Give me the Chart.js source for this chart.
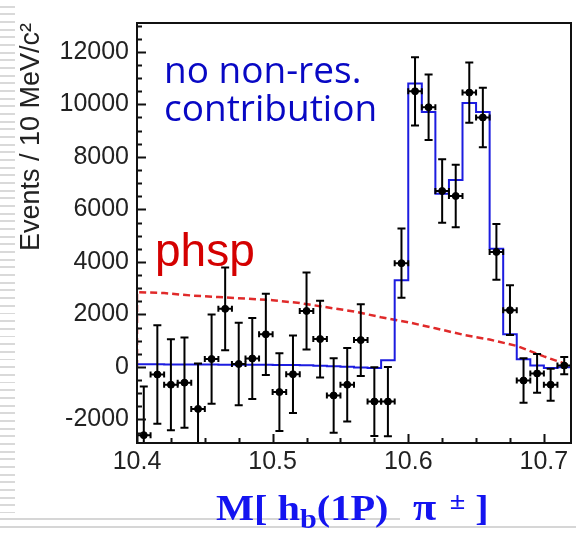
<!DOCTYPE html>
<html>
<head>
<meta charset="utf-8">
<title>M[hb(1P) pi] fit, no non-resonant contribution</title>
<script src="https://cdn.jsdelivr.net/npm/chart.js"></script>
<style>
    html, body { margin: 0; padding: 0; background: #fff; }
    #wrap { position: relative; width: 576px; height: 538px; overflow: hidden; }
    #stripes {
        position: absolute; left: 0; top: 0; width: 15px; height: 513px;
        background: repeating-linear-gradient(to bottom, #fff 0px, #fff 5.7px, #d9d9d9 5.7px, #d9d9d9 7.67px);
    }
    .hline { position: absolute; left: 0; height: 2px; background: #d6d6d6; }
    #myChart { position: absolute; left: 0; top: 0; }
    .note { position: absolute; white-space: nowrap; }
    #nores { left: 164px; top: 50px; font: 37px/38px "Open Sans", sans-serif; color: #0808c4; }
    #phsp { left: 155px; top: 227px; font: 46px/46px "Liberation Sans", Arial, sans-serif; color: #d40000; }
    #xtitle {
        left: 216px; top: 487px; font: bold 36px/40px "Liberation Serif", "Times New Roman", serif;
        color: #1414f0; transform: scaleX(1.12); transform-origin: left top;
    }
    #xtitle sub { font-size: 0.75em; vertical-align: -0.3em; line-height: 0; }
    #xtitle sup { font-size: 0.7em; vertical-align: 0.45em; line-height: 0; }
    #xtitle .pi { margin-left: 4px; font-size: 1.05em; }
    #xtitle .pm { margin-left: 3px; }
</style>
</head>
<body>
<div id="wrap">
    <div id="stripes"></div>
    <div class="hline" style="top:518px; width:400px;"></div>
    <div class="hline" style="top:526px; width:576px;"></div>
    <canvas id="myChart" width="576" height="538"></canvas>
    <div class="note" id="nores">no non-res.<br>contribution</div>
    <div class="note" id="phsp">phsp</div>
    <div class="note" id="xtitle">M[ h<sub>b</sub>(1P)&nbsp; <span class="pi">π</span> <sup class="pm">±</sup> ]</div>
</div>

<script>
    // data points: bin centres (GeV), events per 10 MeV and their errors
    const massBins = [10.405, 10.415, 10.425, 10.435, 10.445, 10.455, 10.465, 10.475,
        10.485, 10.495, 10.505, 10.515, 10.525, 10.535, 10.545, 10.555,
        10.565, 10.575, 10.585, 10.595, 10.605, 10.615, 10.625, 10.635,
        10.645, 10.655, 10.665, 10.675, 10.685, 10.695, 10.705, 10.715];
    const events = [-2600, -290, -680, -600, -1600, 300, 2210, 110,
        320, 1240, -960, -280, 2130, 1060, -1090, -680,
        1020, -1320, -1320, 3950, 10500, 9890, 6700, 6510,
        10450, 9500, 4380, 2160, -520, -250, -680, 50];
    const eventErr = [1850, 1880, 1730, 1720, 1730, 1700, 1580, 1570,
        1540, 1550, 1480, 1480, 1470, 1460, 1420, 1400,
        1370, 1310, 1320, 1320, 1300, 1250, 1210, 1190,
        1150, 1130, 1060, 950, 850, 740, 610, 330];
    const halfBin = 0.005;

    // fit histogram (blue), one value per bin, bins start at these edges
    const fitEdges = [10.40, 10.41, 10.42, 10.43, 10.44, 10.45, 10.46, 10.47,
        10.48, 10.49, 10.50, 10.51, 10.52, 10.53, 10.54, 10.55,
        10.56, 10.57, 10.58, 10.59, 10.60, 10.61, 10.62, 10.63,
        10.64, 10.65, 10.66, 10.67, 10.68, 10.69, 10.70, 10.71, 10.72];
    const fitValues = [100, 100, 95, 95, 90, 90, 85, 85,
        80, 80, 75, 70, 60, 45, 25, 5,
        -20, -40, 256, 3300, 10800, 9710, 6600, 7120,
        10050, 9710, 4500, 1240, 290, 50, -40, -10];

    // phase space shape (red dashed)
    const phspMass = [10.400, 10.400, 10.42, 10.44, 10.46, 10.48, 10.50, 10.52, 10.54,
        10.56, 10.58, 10.60, 10.62, 10.64, 10.66, 10.68, 10.70, 10.72];
    const phspEvents = [0, 2850, 2810, 2720, 2660, 2600, 2540, 2430, 2270,
        2110, 1890, 1700, 1470, 1230, 1040, 800, 400, 40];

    const xTicks = [10.4, 10.5, 10.6, 10.7];
    const yTicks = [-2000, 0, 2000, 4000, 6000, 8000, 10000, 12000];

    const tickFont = { family: 'Liberation Sans', size: 25 };

    // frame, inward ticks and error bars
    const histoStyle = {
        id: 'histoStyle',
        afterDatasetsDraw(chart) {
            const { ctx, chartArea: a, scales: { x, y } } = chart;
            ctx.save();
            ctx.beginPath();
            ctx.rect(a.left, a.top, a.right - a.left, a.bottom - a.top);
            ctx.clip();
            ctx.strokeStyle = '#000';
            ctx.lineWidth = 2;
            massBins.forEach(function (m, i) {
                const px = x.getPixelForValue(m);
                const py = y.getPixelForValue(events[i]);
                const yt = y.getPixelForValue(events[i] + eventErr[i]);
                const yb = y.getPixelForValue(events[i] - eventErr[i]);
                const xl = x.getPixelForValue(m - halfBin);
                const xr = x.getPixelForValue(m + halfBin);
                ctx.beginPath();
                ctx.moveTo(px, yt); ctx.lineTo(px, yb);
                ctx.moveTo(px - 4, yt); ctx.lineTo(px + 4, yt);
                ctx.moveTo(px - 4, yb); ctx.lineTo(px + 4, yb);
                ctx.moveTo(xl, py); ctx.lineTo(xr, py);
                ctx.moveTo(xl, py - 3); ctx.lineTo(xl, py + 3);
                ctx.moveTo(xr, py - 3); ctx.lineTo(xr, py + 3);
                ctx.stroke();
            });
            ctx.restore();
        },
        afterDraw(chart) {
            const { ctx, chartArea: a, scales: { x, y } } = chart;
            ctx.save();
            ctx.strokeStyle = '#111';
            ctx.lineWidth = 2;
            ctx.strokeRect(a.left, a.top, a.right - a.left, a.bottom - a.top);
            ctx.beginPath();
            // y ticks every 500, long ones every 2000
            for (let v = -2500; v <= 13000; v += 500) {
                const py = Math.round(y.getPixelForValue(v)) + 0.5;
                const len = (v % 2000 === 0) ? 9 : 5;
                ctx.moveTo(a.left, py); ctx.lineTo(a.left + len, py);
            }
            // x ticks every 0.025, long ones every 0.1
            for (let k = 0; k <= 12; k++) {
                const v = 10.4 + k * 0.025;
                const px = Math.round(x.getPixelForValue(v)) + 0.5;
                const len = (k % 4 === 0) ? 9 : 5;
                ctx.moveTo(px, a.bottom); ctx.lineTo(px, a.bottom - len);
            }
            ctx.stroke();
            ctx.restore();
        }
    };

    const ctx = document.getElementById('myChart').getContext('2d');
    const chart = new Chart(ctx, {
        type: 'scatter',
        data: {
            datasets: [
                {
                    type: 'line',
                    label: 'phsp',
                    data: phspMass.map((m, i) => ({ x: m, y: phspEvents[i] })),
                    borderColor: '#e02a2a',
                    borderWidth: 2.5,
                    borderDash: [7, 4],
                    pointRadius: 0,
                    fill: false,
                    order: 3
                },
                {
                    type: 'line',
                    label: 'fit',
                    data: fitEdges.map((m, i) => ({ x: m, y: fitValues[Math.min(i, fitValues.length - 1)] })),
                    stepped: true,
                    borderColor: '#1c1ce0',
                    borderWidth: 2,
                    pointRadius: 0,
                    fill: false,
                    order: 2
                },
                {
                    label: 'data',
                    data: massBins.map((m, i) => ({ x: m, y: events[i] })),
                    pointRadius: 3.5,
                    backgroundColor: '#000',
                    borderColor: '#000',
                    order: 1
                }
            ]
        },
        options: {
            responsive: false,
            animation: false,
            layout: { padding: { top: 5, right: 4, left: 0, bottom: 0 } },
            plugins: { legend: { display: false }, tooltip: { enabled: false } },
            scales: {
                x: {
                    type: 'linear', min: 10.4, max: 10.72,
                    grid: { display: false, drawTicks: false },
                    border: { display: false },
                    afterBuildTicks: s => { s.ticks = xTicks.map(v => ({ value: v })); },
                    afterFit: s => { s.height = 95; },
                    ticks: {
                        font: tickFont, color: '#222', padding: 4, maxRotation: 0,
                        callback: v => v.toFixed(1)
                    }
                },
                y: {
                    type: 'linear', min: -2900, max: 13100,
                    grid: { display: false, drawTicks: false },
                    border: { display: false },
                    afterBuildTicks: s => { s.ticks = yTicks.map(v => ({ value: v })); },
                    afterFit: s => { s.width = 137; },
                    ticks: {
                        font: tickFont, color: '#222', padding: 8,
                        callback: v => String(v)
                    },
                    title: {
                        display: true,
                        text: 'Events / 10 MeV/c²',
                        align: 'end',
                        color: '#222',
                        font: { family: 'Liberation Sans', size: 27 },
                        padding: { top: 15, bottom: 0 }
                    }
                }
            }
        },
        plugins: [histoStyle]
    });
</script>
</body>
</html>
